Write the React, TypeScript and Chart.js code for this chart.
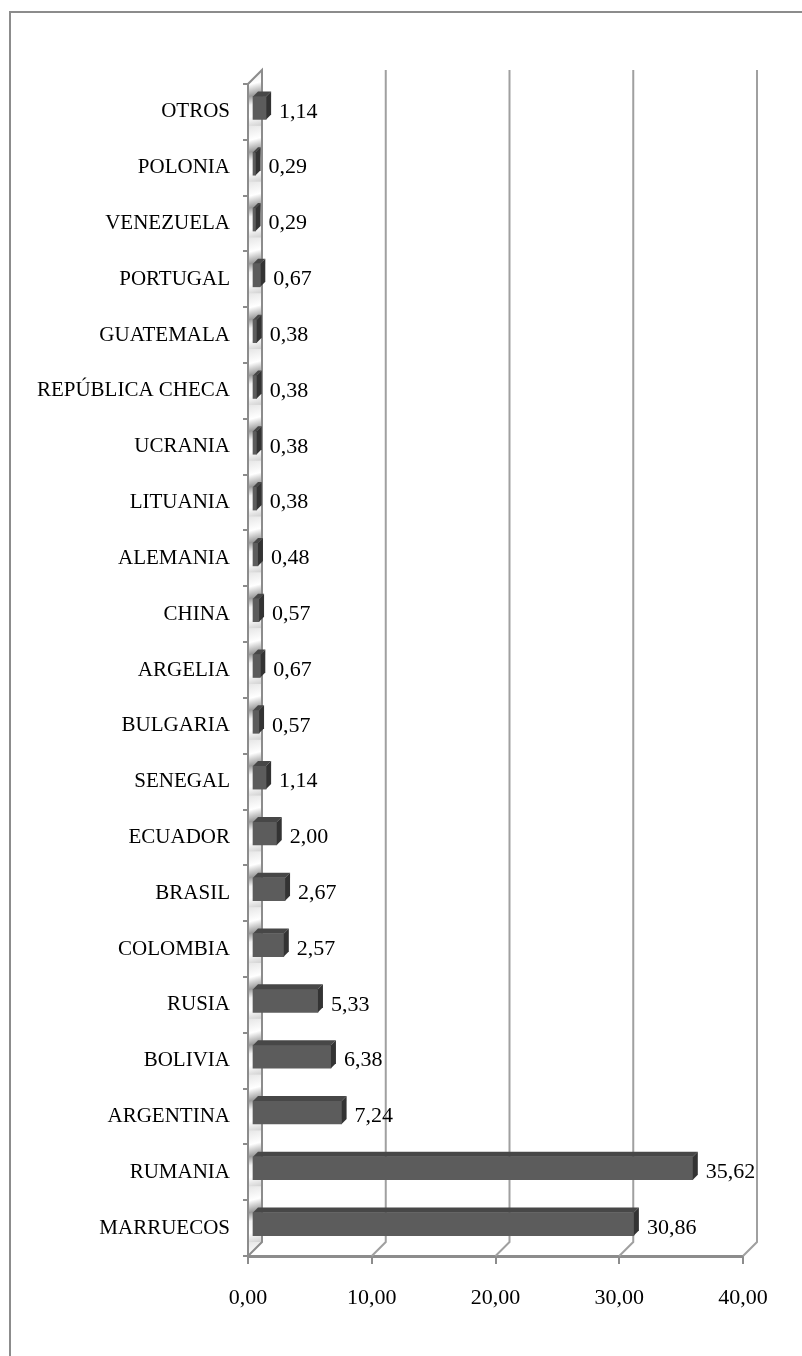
import React, { useEffect, useRef } from "react";
import { Chart, registerables } from "chart.js";

Chart.register(...registerables);

const categories = [
  "OTROS",
  "POLONIA",
  "VENEZUELA",
  "PORTUGAL",
  "GUATEMALA",
  "REPÚBLICA CHECA",
  "UCRANIA",
  "LITUANIA",
  "ALEMANIA",
  "CHINA",
  "ARGELIA",
  "BULGARIA",
  "SENEGAL",
  "ECUADOR",
  "BRASIL",
  "COLOMBIA",
  "RUSIA",
  "BOLIVIA",
  "ARGENTINA",
  "RUMANIA",
  "MARRUECOS",
];

const values = [
  1.14, 0.29, 0.29, 0.67, 0.38, 0.38, 0.38, 0.38, 0.48, 0.57, 0.67, 0.57, 1.14,
  2.0, 2.67, 2.57, 5.33, 6.38, 7.24, 35.62, 30.86,
];

const xTickValues = [0, 10, 20, 30, 40];

const FONT = "'Liberation Serif', 'Times New Roman', serif";
const WALL_DEPTH = 14;
const BAR_SHIFT = 4;
const BAR_DEPTH = 5;
const GRAY = "#8c8c8c";

const fmt = (v: number) => v.toFixed(2).replace(".", ",");

const threeD = {
  id: "threeD",
  beforeDraw(chart: any) {
    const ctx = chart.ctx;
    ctx.save();
    ctx.fillStyle = "#ffffff";
    ctx.fillRect(0, 0, chart.width, chart.height);
    ctx.strokeStyle = GRAY;
    ctx.lineWidth = 2;
    ctx.beginPath();
    ctx.moveTo(10, chart.height);
    ctx.lineTo(10, 12);
    ctx.lineTo(chart.width, 12);
    ctx.stroke();
    ctx.restore();
  },
  beforeDatasetsDraw(chart: any) {
    const ctx = chart.ctx;
    const xs = chart.scales.x;
    const ys = chart.scales.y;
    const area = chart.chartArea;
    const x0 = xs.getPixelForValue(0);
    const top = area.top;
    const bottom = area.bottom;
    ctx.save();
    // back wall grid lines + floor diagonals
    ctx.strokeStyle = "#a0a0a0";
    ctx.lineWidth = 2;
    xTickValues.forEach((t) => {
      if (t === 0) return;
      const px = xs.getPixelForValue(t);
      ctx.beginPath();
      ctx.moveTo(px, bottom);
      ctx.lineTo(px + WALL_DEPTH, bottom - WALL_DEPTH);
      ctx.lineTo(px + WALL_DEPTH, top - WALL_DEPTH);
      ctx.stroke();
    });
    // side wall
    ctx.save();
    ctx.beginPath();
    ctx.moveTo(x0, top);
    ctx.lineTo(x0 + WALL_DEPTH, top - WALL_DEPTH);
    ctx.lineTo(x0 + WALL_DEPTH, bottom - WALL_DEPTH);
    ctx.lineTo(x0, bottom);
    ctx.closePath();
    ctx.clip();
    const n = categories.length;
    const step = (bottom - top) / n;
    for (let i = -1; i <= n; i++) {
      const yTop = top - WALL_DEPTH + i * step;
      const g = ctx.createLinearGradient(x0, yTop, x0 + WALL_DEPTH, yTop + step);
      g.addColorStop(0, "#e6e6e6");
      g.addColorStop(0.25, "#ffffff");
      g.addColorStop(0.45, "#9a9a9a");
      g.addColorStop(0.6, "#f4f4f4");
      g.addColorStop(0.8, "#ffffff");
      g.addColorStop(1, "#d0d0d0");
      ctx.fillStyle = g;
      ctx.fillRect(x0 - 2, yTop, WALL_DEPTH + 4, step + 1);
    }
    ctx.restore();
    ctx.strokeStyle = GRAY;
    ctx.lineWidth = 2;
    ctx.beginPath();
    ctx.moveTo(x0, bottom);
    ctx.lineTo(x0, top);
    ctx.lineTo(x0 + WALL_DEPTH, top - WALL_DEPTH);
    ctx.lineTo(x0 + WALL_DEPTH, bottom - WALL_DEPTH);
    ctx.lineTo(x0, bottom);
    ctx.stroke();
    ctx.restore();
    // shift bars to mid-depth
    ctx.save();
    ctx.translate(BAR_SHIFT, -BAR_SHIFT);
  },
  afterDatasetsDraw(chart: any) {
    const ctx = chart.ctx;
    const meta = chart.getDatasetMeta(0);
    meta.data.forEach((el: any) => {
      const { x, y, base, height } = el.getProps(["x", "y", "base", "height"], true);
      const t = y - height / 2;
      const b = y + height / 2;
      // top face
      ctx.fillStyle = "#474747";
      ctx.beginPath();
      ctx.moveTo(base, t);
      ctx.lineTo(x, t);
      ctx.lineTo(x + BAR_DEPTH, t - BAR_DEPTH);
      ctx.lineTo(base + BAR_DEPTH, t - BAR_DEPTH);
      ctx.closePath();
      ctx.fill();
      // right face
      ctx.fillStyle = "#333333";
      ctx.beginPath();
      ctx.moveTo(x, t);
      ctx.lineTo(x + BAR_DEPTH, t - BAR_DEPTH);
      ctx.lineTo(x + BAR_DEPTH, b - BAR_DEPTH);
      ctx.lineTo(x, b);
      ctx.closePath();
      ctx.fill();
    });
    ctx.restore();
    // value labels
    ctx.save();
    ctx.fillStyle = "#000000";
    ctx.font = `22px ${FONT}`;
    ctx.textAlign = "left";
    ctx.textBaseline = "middle";
    meta.data.forEach((el: any, i: number) => {
      const { x, y } = el.getProps(["x", "y"], true);
      ctx.fillText(fmt(values[i]), x + BAR_SHIFT + 13, y);
    });
    ctx.restore();
  },
};

export default function App() {
  const ref = useRef<HTMLCanvasElement | null>(null);
  useEffect(() => {
    if (!ref.current) return;
    const chart = new Chart(ref.current, {
      type: "bar",
      data: {
        labels: categories,
        datasets: [
          {
            data: values,
            backgroundColor: "#5c5c5c",
            borderWidth: 0,
            barThickness: 23,
            clip: false as any,
          },
        ],
      },
      options: {
        indexAxis: "y",
        animation: false,
        responsive: false,
        devicePixelRatio: 1,
        layout: { padding: { top: 84, right: 59, left: 0, bottom: 0 } },
        plugins: {
          legend: { display: false },
          tooltip: { enabled: false },
        },
        scales: {
          x: {
            min: 0,
            max: 40,
            afterFit: (s: any) => {
              s.height = 100;
            },
            afterBuildTicks: (s: any) => {
              s.ticks = xTickValues.map((v) => ({ value: v }));
            },
            grid: {
              drawOnChartArea: false,
              drawTicks: true,
              tickLength: 8,
              color: GRAY,
              lineWidth: 2,
            },
            border: { display: true, color: GRAY, width: 3 },
            ticks: {
              padding: 21,
              color: "#000000",
              font: { family: FONT, size: 22 },
              callback: (v: any) => fmt(Number(v)),
              maxRotation: 0,
            },
          },
          y: {
            afterFit: (s: any) => {
              s.width = 248;
            },
            grid: {
              drawOnChartArea: false,
              drawTicks: true,
              tickLength: 5,
              color: GRAY,
              lineWidth: 2,
              offset: true,
            },
            border: { display: false },
            ticks: {
              padding: 13,
              color: "#000000",
              font: { family: FONT, size: 21 },
              autoSkip: false,
            },
          },
        },
      },
      plugins: [threeD],
    });
    return () => chart.destroy();
  }, []);
  return (
    <div style={{ position: "absolute", left: 0, top: 0, width: 802, height: 1356, overflow: "hidden" }}>
      <canvas ref={ref} width={802} height={1356} style={{ display: "block", width: 802, height: 1356 }} />
    </div>
  );
}
